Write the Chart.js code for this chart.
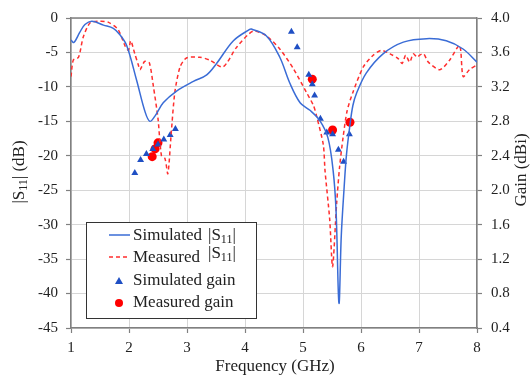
<!DOCTYPE html>
<html lang="en">
<head>
<meta charset="UTF-8">
<title>S11 and gain</title>
<script src="https://cdn.jsdelivr.net/npm/chart.js"></script>
<style>
  html, body { margin: 0; padding: 0; background: #fff; }
  #wrap { width: 531px; height: 382px; position: relative; }
</style>
</head>
<body>
<div id="wrap"><canvas id="chart" width="531" height="382"></canvas></div>
<script>
// simulated |S11| (dB)
const simFreq = [1.00, 1.05, 1.15, 1.24, 1.36, 1.56, 1.73, 1.84, 1.96, 2.13, 2.28, 2.36, 2.45, 2.59, 2.82, 3.11, 3.34, 3.51, 3.80, 4.08, 4.11, 4.37, 4.60, 4.77, 4.95, 5.12, 5.29, 5.43, 5.52, 5.57, 5.62, 5.66, 5.71, 5.75, 5.81, 5.86, 5.92, 6.09, 6.38, 6.73, 7.13, 7.47, 7.76, 8.00];
const simS11 = [-3.2, -3.55, -2.1, -0.95, -0.47, -1.03, -1.5, -2.4, -4.0, -9.0, -13.7, -15.0, -14.2, -12.3, -10.6, -9.2, -8.25, -6.6, -3.3, -1.65, -1.6, -2.6, -5.7, -9.4, -12.3, -13.4, -14.9, -17.4, -22.2, -28.0, -41.4, -31.6, -24.5, -19.8, -15.5, -12.7, -11.0, -8.0, -5.2, -3.5, -3.0, -3.3, -4.5, -6.4];

// measured |S11| (dB)
const measFreq = [1.00, 1.04, 1.13, 1.21, 1.33, 1.50, 1.64, 1.81, 1.93, 1.99, 2.03, 2.10, 2.16, 2.19, 2.27, 2.35, 2.42, 2.50, 2.56, 2.62, 2.67, 2.73, 2.79, 2.88, 2.99, 3.22, 3.39, 3.62, 3.86, 4.14, 4.37, 4.60, 4.83, 5.06, 5.18, 5.23, 5.35, 5.38, 5.46, 5.51, 5.58, 5.63, 5.69, 5.76, 5.86, 6.04, 6.21, 6.35, 6.50, 6.64, 6.71, 6.77, 6.84, 6.90, 6.97, 7.01, 7.08, 7.16, 7.36, 7.53, 7.70, 7.76, 7.87, 8.00];
const measS11 = [-8.5, -6.1, -5.7, -2.8, -0.7, -0.47, -0.6, -1.65, -4.0, -4.7, -3.3, -5.2, -6.8, -7.5, -6.3, -6.5, -9.9, -14.6, -20.0, -20.4, -22.6, -16.5, -10.8, -7.1, -5.8, -5.7, -6.1, -7.1, -4.2, -1.9, -2.6, -4.5, -7.3, -10.8, -12.7, -14.1, -18.4, -22.2, -29.2, -36.1, -26.9, -21.7, -17.4, -13.5, -10.8, -7.1, -5.4, -4.7, -5.2, -5.9, -6.6, -5.4, -6.4, -5.2, -5.7, -5.4, -5.2, -6.4, -7.5, -6.1, -4.0, -8.5, -7.5, -6.8];

// gain (dBi)
const simGainFreq = [2.10, 2.20, 2.30, 2.41, 2.50, 2.60, 2.71, 2.80, 4.80, 4.90, 5.10, 5.16, 5.20, 5.30, 5.41, 5.51, 5.61, 5.70, 5.80];
const simGain = [2.20, 2.35, 2.42, 2.48, 2.53, 2.59, 2.64, 2.71, 3.84, 3.66, 3.34, 3.23, 3.10, 2.83, 2.67, 2.65, 2.47, 2.33, 2.65];
const measGainFreq = [2.40, 2.45, 2.50, 5.16, 5.51, 5.81];
const measGain = [2.39, 2.48, 2.55, 3.29, 2.70, 2.79];

const freqTicks = [1, 2, 3, 4, 5, 6, 7, 8];
const s11Ticks = [-45, -40, -35, -30, -25, -20, -15, -10, -5, 0];
const gainTicks = [0.4, 0.8, 1.2, 1.6, 2.0, 2.4, 2.8, 3.2, 3.6, 4.0];

const serif = '"Liberation Serif", "Times New Roman", serif';
const blue = '#3a6cd6';
const red = '#ff2e2e';

function pts(xs, ys) {
  return xs.map((x, i) => ({ x: x, y: ys[i] }));
}

// draws "|S11|" with subscript, returns width
function drawS11(ctx, x, y, size) {
  let w = 0;
  ctx.font = size + 'px ' + serif;
  ctx.fillText('|S', x, y);
  w += ctx.measureText('|S').width;
  ctx.font = Math.round(size * 0.7) + 'px ' + serif;
  ctx.fillText('11', x + w, y + size * 0.25);
  w += ctx.measureText('11').width;
  ctx.font = size + 'px ' + serif;
  ctx.fillText('|', x + w, y);
  w += ctx.measureText('|').width;
  return w;
}

function measureS11(ctx, size) {
  ctx.font = size + 'px ' + serif;
  let w = ctx.measureText('|S').width + ctx.measureText('|').width;
  ctx.font = Math.round(size * 0.7) + 'px ' + serif;
  return w + ctx.measureText('11').width;
}

const extras = {
  id: 'extras',
  afterDraw(chart) {
    const ctx = chart.ctx;
    const a = chart.chartArea;
    ctx.save();
    // top frame line
    ctx.strokeStyle = '#808080';
    ctx.lineWidth = 1.5;
    ctx.beginPath();
    ctx.moveTo(a.left, a.top);
    ctx.lineTo(a.right, a.top);
    ctx.stroke();

    ctx.fillStyle = '#222';
    ctx.textBaseline = 'middle';
    ctx.textAlign = 'left';

    // left axis title
    ctx.save();
    ctx.translate(20, 172);
    ctx.rotate(-Math.PI / 2);
    const ws = measureS11(ctx, 17);
    ctx.font = '17px ' + serif;
    const wd = ctx.measureText(' (dB)').width;
    let x0 = -(ws + wd) / 2;
    drawS11(ctx, x0, 0, 17);
    ctx.font = '17px ' + serif;
    ctx.fillText(' (dB)', x0 + ws, 0);
    ctx.restore();

    // right axis title
    ctx.save();
    ctx.translate(522, 170);
    ctx.rotate(-Math.PI / 2);
    ctx.font = '17px ' + serif;
    ctx.textAlign = 'center';
    ctx.fillText('Gain (dBi)', 0, 0);
    ctx.restore();

    // x axis title
    ctx.font = '17px ' + serif;
    ctx.textAlign = 'center';
    ctx.fillText('Frequency (GHz)', 275, 367);

    // legend
    ctx.textAlign = 'left';
    ctx.fillStyle = '#fff';
    ctx.fillRect(86, 222, 170, 96);
    ctx.strokeStyle = '#333';
    ctx.lineWidth = 1;
    ctx.strokeRect(86.5, 222.5, 170, 96);

    ctx.lineWidth = 1.5;
    ctx.strokeStyle = blue;
    ctx.beginPath();
    ctx.moveTo(109, 235);
    ctx.lineTo(130, 235);
    ctx.stroke();
    ctx.strokeStyle = red;
    ctx.setLineDash([4, 3]);
    ctx.beginPath();
    ctx.moveTo(109, 257);
    ctx.lineTo(130, 257);
    ctx.stroke();
    ctx.setLineDash([]);

    ctx.fillStyle = '#1f4fc4';
    ctx.beginPath();
    ctx.moveTo(119, 277);
    ctx.lineTo(123, 284);
    ctx.lineTo(115, 284);
    ctx.closePath();
    ctx.fill();
    ctx.fillStyle = '#ff0000';
    ctx.beginPath();
    ctx.arc(119, 303, 4, 0, Math.PI * 2);
    ctx.fill();

    ctx.fillStyle = '#222';
    ctx.font = '17px ' + serif;
    ctx.fillText('Simulated', 133, 236);
    drawS11(ctx, 208, 236, 17);
    ctx.font = '17px ' + serif;
    ctx.fillText('Measured', 133, 258);
    drawS11(ctx, 208, 254, 17);
    ctx.font = '17px ' + serif;
    ctx.fillText('Simulated gain', 133, 281);
    ctx.fillText('Measured gain', 133, 303);
    ctx.restore();
  }
};

const gridDash = { color: '#d6d6d6', borderDash: [4, 3], tickColor: '#808080', tickLength: 5, tickWidth: 1.2, tickBorderDash: [] };

new Chart(document.getElementById('chart'), {
  type: 'scatter',
  data: {
    datasets: [
      {
        label: 'Simulated |S11|',
        data: pts(simFreq, simS11),
        showLine: true,
        borderColor: blue,
        borderWidth: 1.5,
        pointRadius: 0,
        tension: 0.35,
        yAxisID: 'y'
      },
      {
        label: 'Measured |S11|',
        data: pts(measFreq, measS11),
        showLine: true,
        borderColor: red,
        borderWidth: 1.5,
        borderDash: [4, 3],
        pointRadius: 0,
        tension: 0.25,
        yAxisID: 'y'
      },
      {
        label: 'Simulated gain',
        data: pts(simGainFreq, simGain),
        pointStyle: 'triangle',
        pointRadius: 4,
        backgroundColor: '#1f4fc4',
        borderColor: '#1f4fc4',
        borderWidth: 0,
        yAxisID: 'y1'
      },
      {
        label: 'Measured gain',
        data: pts(measGainFreq, measGain),
        pointStyle: 'circle',
        pointRadius: 4.5,
        backgroundColor: '#ff0000',
        borderColor: '#ff0000',
        borderWidth: 0,
        yAxisID: 'y1'
      }
    ]
  },
  options: {
    responsive: false,
    animation: false,
    layout: { padding: { top: 10, left: 0, right: 0, bottom: 0 } },
    plugins: { legend: { display: false }, tooltip: { enabled: false } },
    scales: {
      x: {
        type: 'linear',
        min: 1,
        max: 8,
        afterBuildTicks: s => { s.ticks = freqTicks.map(v => ({ value: v })); },
        afterFit: s => { s.height = 54; },
        grid: gridDash,
        border: { color: '#808080', width: 1.5 },
        ticks: { color: '#222', font: { family: serif, size: 15 }, padding: 6, maxRotation: 0 }
      },
      y: {
        position: 'left',
        min: -45,
        max: 0,
        afterBuildTicks: s => { s.ticks = s11Ticks.map(v => ({ value: v })); },
        afterFit: s => { s.width = 71; },
        grid: gridDash,
        border: { color: '#808080', width: 1.5 },
        ticks: { color: '#222', font: { family: serif, size: 15 }, padding: 8 }
      },
      y1: {
        position: 'right',
        min: 0.4,
        max: 4.0,
        afterBuildTicks: s => { s.ticks = gainTicks.map(v => ({ value: v })); },
        afterFit: s => { s.width = 54; },
        grid: { drawOnChartArea: false, tickColor: '#808080', tickLength: 5, tickWidth: 1.2 },
        border: { color: '#808080', width: 1.5 },
        ticks: { color: '#222', font: { family: serif, size: 15 }, padding: 9, callback: v => v.toFixed(1) }
      }
    }
  },
  plugins: [extras]
});
</script>
</body>
</html>
